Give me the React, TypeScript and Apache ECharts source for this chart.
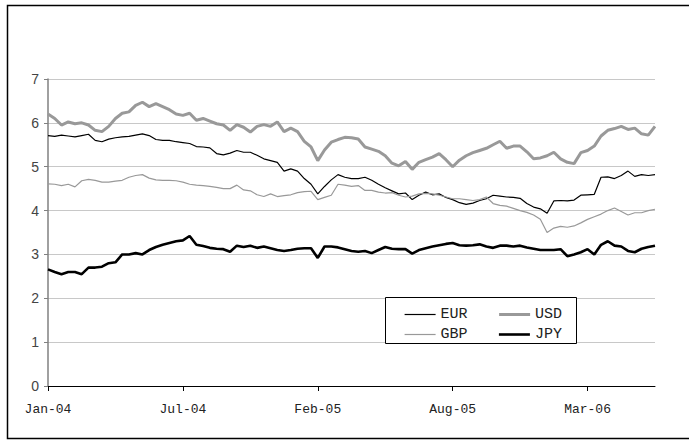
import React, { useEffect, useRef } from "react";
import * as echarts from "echarts";

const tickLabels = ["Jan-04", "Jul-04", "Feb-05", "Aug-05", "Mar-06"];
const pointsPerTick = 20;

const usd = [
  6.2, 6.1, 5.95, 6.02, 5.98, 6.0, 5.95, 5.83, 5.8, 5.92,
  6.1, 6.22, 6.25, 6.4, 6.47, 6.37, 6.44, 6.37, 6.3, 6.2,
  6.17, 6.22, 6.06, 6.1, 6.04, 5.98, 5.95, 5.83, 5.96, 5.9,
  5.79, 5.92, 5.96, 5.92, 6.02, 5.8, 5.88, 5.8, 5.58, 5.45,
  5.14, 5.38, 5.56, 5.62, 5.67, 5.66, 5.63, 5.45, 5.4, 5.35,
  5.25, 5.08, 5.02, 5.12, 4.94, 5.1, 5.16, 5.22, 5.3, 5.16,
  5.0, 5.15, 5.25, 5.32, 5.37, 5.42, 5.5, 5.58, 5.42, 5.47,
  5.47, 5.34, 5.18, 5.2, 5.25, 5.33, 5.18, 5.1, 5.07, 5.32,
  5.37, 5.47, 5.7, 5.83, 5.87, 5.92, 5.85, 5.88, 5.75, 5.72,
  5.92,
];

const eur = [
  5.71, 5.69, 5.72, 5.7, 5.68, 5.71, 5.74, 5.6, 5.57, 5.63,
  5.66, 5.68, 5.69, 5.72, 5.75, 5.71, 5.62, 5.6, 5.6, 5.57,
  5.55, 5.53, 5.46, 5.45, 5.43, 5.3, 5.27, 5.31, 5.37, 5.33,
  5.33, 5.26, 5.18, 5.14, 5.1, 4.9, 4.95, 4.9, 4.73, 4.6,
  4.38, 4.55, 4.7, 4.82, 4.76, 4.73, 4.73, 4.76, 4.69, 4.6,
  4.52, 4.45, 4.38, 4.4, 4.25, 4.35, 4.42, 4.36, 4.38, 4.3,
  4.25, 4.18, 4.14, 4.17, 4.23, 4.27, 4.35, 4.33, 4.31, 4.3,
  4.28, 4.16, 4.08, 4.04, 3.94, 4.22, 4.23, 4.22, 4.24, 4.35,
  4.36, 4.37, 4.76, 4.77, 4.73, 4.8, 4.9, 4.78, 4.82, 4.8,
  4.82,
];

const gbp = [
  4.61, 4.6, 4.57, 4.6, 4.54, 4.68, 4.71, 4.69, 4.65, 4.65,
  4.67, 4.69, 4.76, 4.8, 4.82, 4.74, 4.7, 4.69, 4.69, 4.68,
  4.65, 4.6, 4.58, 4.57, 4.55, 4.53, 4.5, 4.5, 4.58, 4.47,
  4.45, 4.36, 4.32, 4.38, 4.32, 4.34, 4.36, 4.41, 4.43, 4.44,
  4.25, 4.3, 4.35, 4.6, 4.58, 4.55, 4.57, 4.46, 4.46, 4.42,
  4.4, 4.41, 4.35, 4.31, 4.33, 4.38, 4.39, 4.38, 4.35, 4.31,
  4.27, 4.27, 4.25, 4.23, 4.25, 4.31, 4.16, 4.12, 4.1, 4.05,
  4.0, 3.96, 3.9, 3.8, 3.5, 3.6, 3.64, 3.62, 3.65, 3.72,
  3.8, 3.86, 3.92, 4.0, 4.06, 3.98, 3.9, 3.95, 3.95, 4.0,
  4.03,
];

const jpy = [
  2.66, 2.6, 2.55, 2.6, 2.6, 2.55, 2.7, 2.7, 2.72, 2.8,
  2.82, 3.0, 3.0, 3.03, 3.0, 3.1, 3.17, 3.22, 3.26, 3.3,
  3.32, 3.42, 3.22, 3.19, 3.15, 3.13, 3.12, 3.06, 3.2, 3.17,
  3.2, 3.15, 3.18, 3.14, 3.1, 3.08, 3.1, 3.13, 3.14, 3.14,
  2.92, 3.18, 3.18, 3.16, 3.12, 3.08, 3.06, 3.08, 3.03, 3.1,
  3.17, 3.13, 3.12, 3.12, 3.02, 3.1, 3.14, 3.18, 3.21, 3.24,
  3.26, 3.21, 3.2, 3.21, 3.23, 3.18, 3.15, 3.2, 3.2, 3.18,
  3.2, 3.16, 3.13, 3.1, 3.1, 3.1, 3.12, 2.96, 3.0, 3.05,
  3.12, 3.0, 3.22, 3.3, 3.2, 3.18, 3.08, 3.05, 3.13, 3.17,
  3.2,
];

const categories = usd.map((_, i) => String(i));

export default function App() {
  const ref = useRef<HTMLDivElement>(null);
  useEffect(() => {
    if (!ref.current) return;
    const chart = echarts.init(ref.current, null, { renderer: "svg" });
    const mono = "'Liberation Mono', 'DejaVu Sans Mono', monospace";
    const legendText = { fontFamily: mono, fontSize: 15, color: "#222" };
    const legendCommon = {
      left: 399,
      itemWidth: 31,
      itemHeight: 14,
      itemGap: 30,
      textStyle: legendText,
      itemStyle: { opacity: 0 },
      z: 5,
    };
    const style = {
      EUR: { color: "#000", width: 1.2 },
      USD: { color: "#999", width: 3 },
      GBP: { color: "#999", width: 1.2 },
      JPY: { color: "#000", width: 2.6 },
    } as Record<string, { color: string; width: number }>;
    const legendItem = (name: string) => ({
      name,
      lineStyle: { color: style[name].color, width: style[name].width },
    });
    const mkSeries = (name: string, data: number[]) => ({
      name,
      type: "line",
      data,
      symbol: "none",
      lineStyle: { color: style[name].color, width: style[name].width },
      itemStyle: { color: style[name].color },
    });
    chart.setOption({
      animation: false,
      backgroundColor: "#ffffff",
      grid: { left: 48, right: 34, top: 79, bottom: 55, containLabel: false },
      xAxis: {
        type: "category",
        data: categories,
        boundaryGap: false,
        axisLine: { lineStyle: { color: "#000", width: 1 } },
        axisTick: {
          interval: pointsPerTick - 1,
          length: 5,
          lineStyle: { color: "#000" },
        },
        axisLabel: {
          interval: pointsPerTick - 1,
          margin: 17,
          fontFamily: mono,
          fontSize: 13,
          color: "#222",
          formatter: (_v: string, idx: number) =>
            tickLabels[Math.round(idx / pointsPerTick)] ?? "",
        },
        splitLine: { show: false },
      },
      yAxis: {
        type: "value",
        min: 0,
        max: 7,
        interval: 1,
        axisLine: { show: true, lineStyle: { color: "#808080", width: 1.5 } },
        axisTick: { show: true, length: 4, lineStyle: { color: "#808080" } },
        axisLabel: {
          margin: 9,
          fontFamily: "'Liberation Sans', Arial, sans-serif",
          fontSize: 14,
          color: "#444",
        },
        splitLine: { lineStyle: { color: "#c8c8c8", width: 1 } },
      },
      legend: [
        { ...legendCommon, data: [legendItem("EUR"), legendItem("USD")], top: 302 },
        { ...legendCommon, data: [legendItem("GBP"), legendItem("JPY")], top: 322 },
      ],
      graphic: [
        {
          type: "rect",
          z: 1,
          shape: { x: 7.5, y: 5.5, width: 700, height: 433 },
          style: { fill: "none", stroke: "#000", lineWidth: 1.5 },
        },
        {
          type: "rect",
          z: 4,
          shape: { x: 385.5, y: 297.5, width: 191, height: 46 },
          style: { fill: "#fff", stroke: "#000", lineWidth: 1 },
        },
      ],
      series: [
        mkSeries("EUR", eur),
        mkSeries("USD", usd),
        mkSeries("GBP", gbp),
        mkSeries("JPY", jpy),
      ],
    });
    return () => chart.dispose();
  }, []);
  return (
    <div
      ref={ref}
      style={{ position: "absolute", left: 0, top: 0, width: 689, height: 441 }}
    />
  );
}
